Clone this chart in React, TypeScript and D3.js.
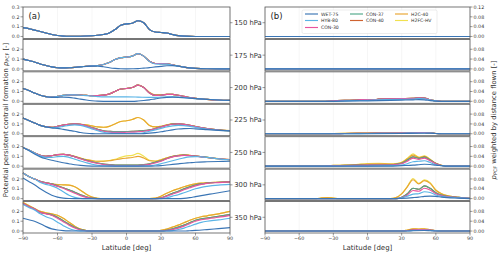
import * as d3 from 'd3';

type Pt = [number, number];

const series = ['WET-75', 'HYB-80', 'CON-30', 'CON-37', 'CON-40', 'H2C-40', 'H2FC-HV'];
const colors = ['#3a75b5', '#5ab4e6', '#e8549e', '#50a888', '#cf6330', '#e8a530', '#f1e150'];
const levels = ['150 hPa', '175 hPa', '200 hPa', '225 hPa', '250 hPa', '300 hPa', '350 hPa'];
const latTicks = [-90, -60, -30, 0, 30, 60, 90];
const pcfTicks = [0, 0.1, 0.2, 0.3];
const distTicks = [0, 0.04, 0.08, 0.12];

// ---- (a) potential persistent contrail formation, [lat, value] knots
const p150: Pt[] = [[-90,0.09],[-85,0.08],[-80,0.065],[-75,0.05],[-70,0.035],[-65,0.02],[-60,0.01],[-55,0.004],[-50,0.002],[-40,0.002],[-30,0.007],[-25,0.012],[-20,0.02],[-15,0.035],[-10,0.07],[-5,0.115],[0,0.128],[5,0.135],[10,0.16],[15,0.14],[20,0.07],[25,0.045],[30,0.04],[35,0.035],[40,0.02],[45,0.008],[50,0.003],[60,0],[90,0]];

const p175_wet: Pt[] = [[-90,0.1],[-85,0.085],[-80,0.07],[-75,0.05],[-70,0.035],[-65,0.02],[-60,0.012],[-55,0.01],[-50,0.012],[-45,0.016],[-40,0.02],[-35,0.025],[-30,0.028],[-25,0.028],[-20,0.022],[-15,0.012],[-10,0.005],[-5,0.001],[0,0],[5,0.001],[10,0.003],[15,0.008],[20,0.013],[25,0.02],[30,0.026],[35,0.032],[40,0.033],[45,0.028],[50,0.018],[55,0.01],[60,0.005],[70,0.001],[90,0]];
const p175_hyb: Pt[] = [[-90,0.1],[-85,0.085],[-80,0.07],[-75,0.05],[-70,0.035],[-65,0.02],[-60,0.012],[-55,0.01],[-50,0.012],[-45,0.016],[-40,0.022],[-35,0.027],[-30,0.03],[-25,0.035],[-20,0.045],[-15,0.065],[-10,0.095],[-5,0.115],[0,0.12],[5,0.13],[10,0.155],[15,0.13],[20,0.075],[25,0.05],[30,0.048],[35,0.048],[40,0.04],[45,0.028],[50,0.018],[55,0.01],[60,0.005],[70,0.001],[90,0]];
const p175_con: Pt[] = [[-90,0.1],[-85,0.085],[-80,0.07],[-75,0.05],[-70,0.035],[-65,0.02],[-60,0.012],[-55,0.01],[-50,0.012],[-45,0.016],[-40,0.022],[-35,0.027],[-30,0.03],[-25,0.035],[-20,0.045],[-15,0.065],[-10,0.095],[-5,0.115],[0,0.12],[5,0.13],[10,0.155],[15,0.13],[20,0.078],[25,0.055],[30,0.054],[35,0.052],[40,0.042],[45,0.029],[50,0.018],[55,0.01],[60,0.005],[70,0.001],[90,0]];

const p200_wet: Pt[] = [[-90,0.13],[-85,0.11],[-80,0.085],[-75,0.062],[-70,0.048],[-65,0.04],[-60,0.04],[-55,0.042],[-50,0.04],[-45,0.032],[-40,0.022],[-35,0.013],[-30,0.006],[-25,0.002],[-15,0],[5,0],[10,0.003],[15,0.008],[20,0.015],[25,0.025],[30,0.034],[35,0.04],[40,0.042],[45,0.04],[50,0.036],[55,0.032],[60,0.028],[70,0.02],[80,0.013],[90,0.01]];
const p200_hyb: Pt[] = [[-90,0.13],[-85,0.11],[-80,0.085],[-75,0.062],[-70,0.048],[-65,0.042],[-60,0.05],[-55,0.06],[-50,0.065],[-45,0.065],[-40,0.062],[-35,0.058],[-30,0.053],[-25,0.048],[-20,0.045],[-10,0.045],[0,0.045],[10,0.043],[20,0.04],[25,0.04],[30,0.043],[35,0.046],[40,0.046],[45,0.043],[50,0.038],[55,0.033],[60,0.028],[70,0.02],[80,0.013],[90,0.01]];
const p200_con: Pt[] = [[-90,0.13],[-85,0.11],[-80,0.085],[-75,0.062],[-70,0.048],[-65,0.042],[-60,0.05],[-55,0.06],[-50,0.066],[-45,0.066],[-40,0.063],[-35,0.06],[-30,0.057],[-25,0.058],[-20,0.063],[-15,0.075],[-10,0.1],[-5,0.125],[0,0.13],[5,0.14],[10,0.165],[15,0.14],[20,0.085],[25,0.06],[30,0.062],[35,0.07],[40,0.07],[45,0.062],[50,0.05],[55,0.038],[60,0.03],[70,0.02],[80,0.013],[90,0.01]];
const p200_h2: Pt[] = [[-90,0.13],[-85,0.11],[-80,0.085],[-75,0.062],[-70,0.048],[-65,0.042],[-60,0.05],[-55,0.06],[-50,0.066],[-45,0.066],[-40,0.063],[-35,0.06],[-30,0.057],[-25,0.058],[-20,0.063],[-15,0.075],[-10,0.1],[-5,0.125],[0,0.13],[5,0.14],[10,0.165],[15,0.142],[20,0.09],[25,0.066],[30,0.066],[35,0.072],[40,0.071],[45,0.062],[50,0.05],[55,0.038],[60,0.03],[70,0.02],[80,0.013],[90,0.01]];

const p225_wet: Pt[] = [[-90,0.16],[-85,0.135],[-80,0.11],[-75,0.085],[-70,0.07],[-65,0.06],[-60,0.055],[-55,0.045],[-50,0.035],[-45,0.025],[-40,0.013],[-35,0.005],[-30,0.001],[-20,0],[10,0],[15,0.002],[20,0.006],[25,0.012],[30,0.02],[35,0.03],[40,0.04],[45,0.048],[50,0.052],[55,0.053],[60,0.05],[70,0.042],[80,0.034],[90,0.03]];
const p225_hyb: Pt[] = [[-90,0.16],[-85,0.135],[-80,0.11],[-75,0.085],[-70,0.07],[-65,0.062],[-60,0.065],[-55,0.075],[-50,0.085],[-45,0.09],[-40,0.085],[-35,0.07],[-30,0.05],[-25,0.03],[-20,0.015],[-15,0.007],[-10,0.004],[0,0.003],[10,0.004],[15,0.01],[20,0.025],[25,0.04],[30,0.055],[35,0.07],[40,0.08],[45,0.085],[50,0.083],[55,0.075],[60,0.065],[70,0.048],[80,0.036],[90,0.03]];
const p225_c30: Pt[] = [[-90,0.16],[-85,0.135],[-80,0.11],[-75,0.085],[-70,0.07],[-65,0.065],[-60,0.075],[-55,0.088],[-50,0.097],[-45,0.1],[-40,0.095],[-35,0.08],[-30,0.06],[-25,0.04],[-20,0.025],[-15,0.017],[-10,0.014],[-5,0.014],[0,0.015],[5,0.016],[10,0.02],[15,0.025],[20,0.035],[25,0.05],[30,0.068],[35,0.085],[40,0.097],[45,0.1],[50,0.095],[55,0.085],[60,0.072],[70,0.052],[80,0.038],[90,0.031]];
const p225_c40: Pt[] = [[-90,0.16],[-85,0.135],[-80,0.11],[-75,0.085],[-70,0.07],[-65,0.065],[-60,0.075],[-55,0.088],[-50,0.097],[-45,0.1],[-40,0.096],[-35,0.082],[-30,0.063],[-25,0.045],[-20,0.03],[-15,0.025],[-10,0.022],[-5,0.022],[0,0.023],[5,0.025],[10,0.028],[15,0.032],[20,0.04],[25,0.054],[30,0.07],[35,0.086],[40,0.098],[45,0.1],[50,0.096],[55,0.086],[60,0.073],[70,0.053],[80,0.039],[90,0.031]];
const p225_h2: Pt[] = [[-90,0.16],[-85,0.135],[-80,0.11],[-75,0.085],[-70,0.07],[-65,0.065],[-60,0.075],[-55,0.088],[-50,0.097],[-45,0.1],[-40,0.097],[-35,0.09],[-30,0.08],[-25,0.07],[-20,0.066],[-15,0.075],[-10,0.1],[-5,0.125],[0,0.132],[5,0.145],[10,0.165],[15,0.14],[20,0.085],[25,0.07],[30,0.075],[35,0.09],[40,0.1],[45,0.102],[50,0.097],[55,0.087],[60,0.074],[70,0.054],[80,0.04],[90,0.032]];

const p250_wet: Pt[] = [[-90,0.19],[-85,0.16],[-80,0.125],[-75,0.095],[-70,0.075],[-65,0.06],[-60,0.048],[-55,0.035],[-50,0.025],[-45,0.015],[-40,0.008],[-35,0.003],[-30,0.001],[-20,0],[20,0],[25,0.002],[30,0.006],[35,0.012],[40,0.018],[45,0.024],[50,0.03],[55,0.035],[60,0.04],[70,0.045],[80,0.048],[90,0.05]];
const p250_hyb: Pt[] = [[-90,0.19],[-85,0.165],[-80,0.135],[-75,0.105],[-70,0.09],[-65,0.09],[-60,0.097],[-55,0.1],[-50,0.09],[-45,0.072],[-40,0.052],[-35,0.035],[-30,0.02],[-25,0.01],[-20,0.004],[-10,0.001],[10,0.001],[20,0.004],[25,0.012],[30,0.025],[35,0.04],[40,0.055],[45,0.07],[50,0.085],[55,0.095],[60,0.098],[65,0.095],[70,0.09],[80,0.075],[90,0.065]];
const p250_c30: Pt[] = [[-90,0.19],[-85,0.165],[-80,0.135],[-75,0.11],[-70,0.1],[-65,0.108],[-60,0.117],[-55,0.12],[-50,0.112],[-45,0.095],[-40,0.075],[-35,0.055],[-30,0.04],[-25,0.027],[-20,0.017],[-15,0.01],[-10,0.006],[0,0.004],[10,0.006],[15,0.01],[20,0.018],[25,0.032],[30,0.05],[35,0.075],[40,0.095],[45,0.105],[50,0.11],[55,0.108],[60,0.102],[70,0.088],[80,0.076],[90,0.066]];
const p250_c40: Pt[] = [[-90,0.19],[-85,0.165],[-80,0.135],[-75,0.11],[-70,0.1],[-65,0.108],[-60,0.117],[-55,0.12],[-50,0.113],[-45,0.097],[-40,0.078],[-35,0.06],[-30,0.045],[-25,0.032],[-20,0.022],[-15,0.016],[-10,0.012],[0,0.01],[10,0.012],[15,0.016],[20,0.025],[25,0.04],[30,0.056],[35,0.078],[40,0.097],[45,0.107],[50,0.112],[55,0.109],[60,0.103],[70,0.089],[80,0.076],[90,0.066]];
const p250_h2c: Pt[] = [[-90,0.19],[-85,0.165],[-80,0.135],[-75,0.11],[-70,0.1],[-65,0.108],[-60,0.117],[-55,0.121],[-50,0.115],[-45,0.1],[-40,0.083],[-35,0.067],[-30,0.056],[-25,0.05],[-20,0.05],[-15,0.055],[-10,0.065],[-5,0.075],[0,0.082],[5,0.088],[10,0.1],[15,0.083],[20,0.055],[25,0.05],[30,0.065],[35,0.085],[40,0.1],[45,0.11],[50,0.115],[55,0.11],[60,0.104],[70,0.09],[80,0.077],[90,0.067]];
const p250_h2fc: Pt[] = [[-90,0.19],[-85,0.165],[-80,0.135],[-75,0.11],[-70,0.1],[-65,0.108],[-60,0.117],[-55,0.121],[-50,0.115],[-45,0.1],[-40,0.083],[-35,0.067],[-30,0.056],[-25,0.05],[-20,0.051],[-15,0.058],[-10,0.07],[-5,0.09],[0,0.105],[5,0.11],[10,0.13],[15,0.1],[20,0.06],[25,0.052],[30,0.066],[35,0.085],[40,0.1],[45,0.11],[50,0.115],[55,0.11],[60,0.104],[70,0.09],[80,0.077],[90,0.067]];

const p300_wet: Pt[] = [[-90,0.21],[-85,0.175],[-80,0.14],[-75,0.1],[-70,0.065],[-65,0.035],[-60,0.015],[-55,0.005],[-50,0.001],[-45,0],[45,0],[50,0.003],[55,0.01],[60,0.02],[65,0.03],[70,0.04],[75,0.05],[80,0.06],[85,0.07],[90,0.08]];
const p300_hyb: Pt[] = [[-90,0.26],[-85,0.225],[-80,0.2],[-75,0.165],[-70,0.145],[-65,0.13],[-60,0.105],[-55,0.07],[-50,0.035],[-45,0.012],[-40,0.003],[-35,0],[30,0],[35,0.008],[40,0.025],[45,0.04],[50,0.06],[55,0.08],[60,0.1],[65,0.115],[70,0.125],[80,0.138],[90,0.145]];
const p300_c30: Pt[] = [[-90,0.26],[-85,0.225],[-80,0.2],[-75,0.175],[-70,0.16],[-65,0.145],[-60,0.125],[-55,0.105],[-50,0.08],[-45,0.055],[-40,0.03],[-35,0.012],[-30,0.003],[-25,0],[25,0],[30,0.005],[35,0.025],[40,0.045],[45,0.065],[50,0.09],[55,0.11],[60,0.13],[65,0.145],[70,0.155],[80,0.163],[90,0.17]];
const p300_c40: Pt[] = [[-90,0.26],[-85,0.225],[-80,0.2],[-75,0.175],[-70,0.162],[-65,0.15],[-60,0.13],[-55,0.11],[-50,0.09],[-45,0.065],[-40,0.04],[-35,0.018],[-30,0.005],[-25,0],[25,0],[30,0.008],[35,0.03],[40,0.055],[45,0.075],[50,0.1],[55,0.12],[60,0.138],[65,0.15],[70,0.158],[80,0.165],[90,0.17]];
const p300_h2: Pt[] = [[-90,0.26],[-85,0.225],[-80,0.2],[-75,0.175],[-70,0.16],[-65,0.15],[-60,0.143],[-55,0.14],[-50,0.137],[-45,0.12],[-40,0.085],[-35,0.045],[-30,0.015],[-25,0.002],[-20,0],[20,0],[25,0.005],[30,0.025],[35,0.055],[40,0.08],[45,0.1],[50,0.12],[55,0.137],[60,0.15],[65,0.158],[70,0.162],[80,0.167],[90,0.172]];

const p350_wet: Pt[] = [[-90,0.13],[-85,0.115],[-80,0.1],[-75,0.075],[-70,0.045],[-65,0.022],[-60,0.01],[-55,0.004],[-50,0.001],[-45,0],[50,0],[55,0.003],[60,0.006],[70,0.015],[80,0.025],[90,0.035]];
const p350_hyb: Pt[] = [[-90,0.27],[-85,0.24],[-80,0.215],[-75,0.175],[-70,0.145],[-65,0.125],[-60,0.09],[-55,0.055],[-50,0.025],[-45,0.008],[-40,0.001],[-35,0],[35,0],[40,0.004],[45,0.015],[50,0.03],[55,0.05],[60,0.07],[65,0.088],[70,0.1],[80,0.113],[90,0.13]];
const p350_c30: Pt[] = [[-90,0.28],[-85,0.25],[-80,0.225],[-75,0.19],[-70,0.175],[-65,0.16],[-60,0.13],[-55,0.095],[-50,0.06],[-45,0.03],[-40,0.01],[-35,0.002],[-30,0],[30,0],[35,0.005],[40,0.015],[45,0.03],[50,0.05],[55,0.075],[60,0.1],[65,0.115],[70,0.123],[80,0.14],[90,0.16]];
const p350_c40: Pt[] = [[-90,0.28],[-85,0.25],[-80,0.225],[-75,0.19],[-70,0.178],[-65,0.165],[-60,0.14],[-55,0.105],[-50,0.07],[-45,0.038],[-40,0.015],[-35,0.004],[-30,0],[30,0],[35,0.008],[40,0.022],[45,0.04],[50,0.06],[55,0.085],[60,0.11],[65,0.125],[70,0.133],[80,0.15],[90,0.168]];
const p350_h2: Pt[] = [[-90,0.29],[-85,0.26],[-80,0.23],[-75,0.2],[-70,0.185],[-65,0.175],[-60,0.16],[-55,0.13],[-50,0.09],[-45,0.05],[-40,0.02],[-35,0.005],[-30,0],[25,0],[30,0.008],[35,0.02],[40,0.04],[45,0.06],[50,0.085],[55,0.11],[60,0.13],[65,0.145],[70,0.155],[80,0.175],[90,0.2]];

// ---- (b) pPCF weighted by distance flown
const dZero: Pt[] = [[-90,0],[90,0]];

const d200_wet: Pt[] = [[-90,0],[-30,0],[-20,0.001],[0,0.002],[20,0.004],[30,0.005],[40,0.006],[45,0.007],[50,0.006],[55,0.003],[60,0.001],[65,0],[90,0]];
const d200_hyb: Pt[] = [[-90,0],[-30,0],[-20,0.002],[-10,0.003],[0,0.004],[10,0.006],[20,0.007],[30,0.008],[40,0.009],[45,0.011],[50,0.01],[55,0.005],[60,0.002],[65,0],[90,0]];
const d200_con: Pt[] = [[-90,0],[-40,0],[-30,0.002],[-20,0.004],[-10,0.005],[-5,0.007],[0,0.007],[5,0.006],[10,0.009],[20,0.01],[30,0.011],[40,0.012],[45,0.014],[50,0.013],[55,0.006],[60,0.002],[65,0],[90,0]];

const d225_wet: Pt[] = [[-90,0],[0,0],[30,0.001],[45,0.002],[55,0.002],[60,0.001],[65,0],[90,0]];
const d225_hyb: Pt[] = [[-90,0],[-20,0],[0,0.001],[30,0.002],[45,0.003],[55,0.003],[60,0.001],[65,0],[90,0]];
const d225_con: Pt[] = [[-90,0],[-30,0],[-20,0.001],[0,0.002],[20,0.003],[40,0.004],[50,0.005],[55,0.003],[60,0.001],[65,0],[90,0]];
const d225_h2: Pt[] = [[-90,0],[-40,0],[-30,0.001],[-20,0.002],[0,0.003],[20,0.004],[40,0.005],[50,0.005],[55,0.003],[60,0.001],[65,0],[90,0]];

const d250_wet: Pt[] = [[-90,0],[20,0],[30,0.002],[40,0.004],[45,0.006],[50,0.008],[55,0.007],[60,0.004],[65,0.002],[70,0],[90,0]];
const d250_hyb: Pt[] = [[-90,0],[0,0],[20,0.002],[30,0.005],[35,0.01],[40,0.018],[45,0.02],[50,0.022],[55,0.015],[60,0.006],[65,0.002],[70,0],[90,0]];
const d250_c30: Pt[] = [[-90,0],[-40,0],[-30,0.002],[-10,0.003],[0,0.004],[10,0.004],[20,0.005],[30,0.01],[35,0.02],[40,0.033],[45,0.028],[50,0.033],[55,0.022],[60,0.01],[65,0.003],[70,0],[90,0]];
const d250_c40: Pt[] = [[-90,0],[-40,0],[-30,0.002],[-10,0.004],[0,0.005],[10,0.006],[20,0.006],[30,0.012],[35,0.025],[40,0.038],[45,0.032],[50,0.037],[55,0.025],[60,0.011],[65,0.003],[70,0],[90,0]];
const d250_h2c: Pt[] = [[-90,0],[-40,0],[-30,0.003],[-20,0.004],[-10,0.006],[0,0.009],[10,0.01],[20,0.009],[25,0.01],[30,0.015],[35,0.03],[40,0.045],[45,0.035],[50,0.04],[55,0.027],[60,0.012],[65,0.004],[70,0],[90,0]];
const d250_h2fc: Pt[] = [[-90,0],[-40,0],[-30,0.003],[-20,0.004],[-10,0.007],[0,0.011],[10,0.012],[20,0.01],[25,0.011],[30,0.016],[35,0.032],[40,0.05],[45,0.037],[50,0.042],[55,0.028],[60,0.012],[65,0.004],[70,0],[90,0]];

const d300_wet: Pt[] = [[-90,0],[25,0],[30,0.001],[40,0.004],[45,0.006],[50,0.009],[55,0.01],[60,0.009],[65,0.006],[70,0.004],[80,0.002],[90,0]];
const d300_hyb: Pt[] = [[-90,0],[25,0],[30,0.003],[35,0.01],[40,0.018],[45,0.02],[50,0.028],[55,0.025],[60,0.015],[65,0.009],[70,0.006],[80,0.003],[90,0.001]];
const d300_c30: Pt[] = [[-90,0],[25,0],[30,0.004],[35,0.015],[40,0.033],[45,0.03],[50,0.042],[55,0.035],[60,0.02],[65,0.012],[70,0.008],[80,0.004],[90,0.001]];
const d300_c40: Pt[] = [[-90,0],[25,0],[30,0.005],[35,0.02],[40,0.042],[45,0.038],[50,0.052],[55,0.042],[60,0.024],[65,0.014],[70,0.009],[80,0.005],[90,0.001]];
const d300_h2c: Pt[] = [[-90,0],[-45,0],[-40,0.003],[-35,0.004],[-30,0.002],[-25,0],[20,0],[25,0.004],[30,0.019],[35,0.048],[40,0.077],[45,0.06],[50,0.073],[55,0.062],[60,0.034],[65,0.02],[70,0.012],[80,0.005],[90,0.001]];
const d300_h2fc: Pt[] = [[-90,0],[-45,0],[-40,0.003],[-35,0.004],[-30,0.002],[-25,0],[20,0],[25,0.004],[30,0.02],[35,0.05],[40,0.082],[45,0.062],[50,0.076],[55,0.065],[60,0.035],[65,0.02],[70,0.012],[80,0.005],[90,0.001]];

const d350_wet: Pt[] = [[-90,0],[35,0],[40,0.001],[50,0.002],[55,0.001],[60,0],[90,0]];
const d350_hyb: Pt[] = [[-90,0],[35,0],[40,0.002],[45,0.003],[50,0.003],[55,0.002],[60,0.001],[65,0],[90,0]];
const d350_con: Pt[] = [[-90,0],[30,0],[35,0.002],[40,0.005],[45,0.006],[50,0.006],[55,0.004],[60,0.001],[65,0],[90,0]];
const d350_h2: Pt[] = [[-90,0],[-40,0],[-35,0.001],[-30,0],[30,0],[35,0.004],[40,0.009],[45,0.008],[50,0.009],[55,0.005],[60,0.002],[65,0],[90,0]];

// series order per level: WET-75, HYB-80, CON-30, CON-37, CON-40, H2C-40, H2FC-HV
const pcfLevels: Pt[][][] = [
  [p150, p150, p150, p150, p150, p150, p150],
  [p175_wet, p175_hyb, p175_con, p175_con, p175_con, p175_con, p175_con],
  [p200_wet, p200_hyb, p200_con, p200_con, p200_con, p200_h2, p200_h2],
  [p225_wet, p225_hyb, p225_c30, p225_c40, p225_c40, p225_h2, p225_h2],
  [p250_wet, p250_hyb, p250_c30, p250_c40, p250_c40, p250_h2c, p250_h2fc],
  [p300_wet, p300_hyb, p300_c30, p300_c40, p300_c40, p300_h2, p300_h2],
  [p350_wet, p350_hyb, p350_c30, p350_c40, p350_c40, p350_h2, p350_h2],
];
const distLevels: Pt[][][] = [
  [dZero, dZero, dZero, dZero, dZero, dZero, dZero],
  [dZero, dZero, dZero, dZero, dZero, dZero, dZero],
  [d200_wet, d200_hyb, d200_con, d200_con, d200_con, d200_con, d200_con],
  [d225_wet, d225_hyb, d225_con, d225_con, d225_con, d225_h2, d225_h2],
  [d250_wet, d250_hyb, d250_c30, d250_c40, d250_c40, d250_h2c, d250_h2fc],
  [d300_wet, d300_hyb, d300_c30, d300_c40, d300_c40, d300_h2c, d300_h2fc],
  [d350_wet, d350_hyb, d350_con, d350_con, d350_con, d350_h2, d350_h2],
];

const W = 500;
const H = 256;
const TOP = 7;
const BOTTOM = 233;
const GAP = 1;
const ROW_H = (BOTTOM - TOP - GAP * (levels.length - 1)) / levels.length;
const FONT = 'DejaVu Sans, sans-serif';
const SPINE = '#555';

const minus = (s: string) => s.replace('-', '\u2212');

type PanelProps = {
  x0: number;
  x1: number;
  data: Pt[][][];
  yMin: number;
  yMax: number;
  ticks: number[];
  fmt: (v: number) => string;
  side: 'left' | 'right';
  label: string;
};

function Panel({ x0, x1, data, yMin, yMax, ticks, fmt, side, label }: PanelProps) {
  const x = d3.scaleLinear().domain([-90, 90]).range([x0, x1]);
  const order = d3.range(series.length).reverse(); // WET-75 drawn last, on top

  return (
    <g>
      {data.map((level, i) => {
        const yTop = TOP + i * (ROW_H + GAP);
        const y = d3.scaleLinear().domain([yMin, yMax]).range([yTop + ROW_H, yTop]);
        const line = d3.line<Pt>().x(d => x(d[0])).y(d => y(d[1])).curve(d3.curveMonotoneX);
        const shown = i === 0 ? ticks : ticks.filter(t => t < yMax - 1e-9);
        const axX = side === 'left' ? x0 : x1;
        const dir = side === 'left' ? -1 : 1;
        return (
          <g key={i}>
            {latTicks.map(t => (
              <line key={t} x1={x(t)} x2={x(t)} y1={yTop} y2={yTop + ROW_H} stroke="#ececec" strokeWidth={0.5} />
            ))}
            {order.map(s => (
              <path key={s} d={line(level[s]) ?? ''} fill="none" stroke={colors[s]} strokeWidth={1.15} />
            ))}
            <rect x={x0} y={yTop} width={x1 - x0} height={ROW_H} fill="none" stroke={SPINE} strokeWidth={0.8} />
            {shown.map(t => (
              <g key={t}>
                <line x1={axX} x2={axX + dir * 2.5} y1={y(t)} y2={y(t)} stroke={SPINE} strokeWidth={0.6} />
                <text
                  x={axX + dir * 3.5}
                  y={y(t)}
                  dy="0.35em"
                  fontSize={4.8}
                  fill="#333"
                  textAnchor={side === 'left' ? 'end' : 'start'}
                >
                  {fmt(t)}
                </text>
              </g>
            ))}
            {/* pressure-level tick on the inner side */}
            {side === 'left' ? (
              <line x1={x1} x2={x1 + 2.5} y1={yTop + ROW_H / 2} y2={yTop + ROW_H / 2} stroke={SPINE} strokeWidth={0.6} />
            ) : (
              <line x1={x0} x2={x0 - 2.5} y1={yTop + ROW_H / 2} y2={yTop + ROW_H / 2} stroke={SPINE} strokeWidth={0.6} />
            )}
          </g>
        );
      })}
      {latTicks.map(t => (
        <g key={t}>
          <line x1={x(t)} x2={x(t)} y1={BOTTOM} y2={BOTTOM + 2.5} stroke={SPINE} strokeWidth={0.6} />
          <text x={x(t)} y={BOTTOM + 5.3} dy="0.35em" fontSize={4.8} fill="#333" textAnchor="middle">
            {minus(String(t))}
          </text>
        </g>
      ))}
      <text x={(x0 + x1) / 2} y={BOTTOM + 14.5} dy="0.35em" fontSize={7} fill="#333" textAnchor="middle">
        Latitude [deg]
      </text>
      <text x={x0 + 5.5} y={TOP + 9} dy="0.35em" fontSize={8.5} fill="#222">
        {label}
      </text>
    </g>
  );
}

function Legend() {
  const lx = 302;
  const ly = 10;
  const cols = [0, 0, 0, 1, 1, 2, 2];
  const rows = [0, 1, 2, 0, 1, 0, 1];
  const colX = [305, 350, 395];
  const rowY = [14, 20.5, 27.5];
  return (
    <g>
      <rect x={lx} y={ly} width={135} height={23.5} rx={1.5} fill="white" fillOpacity={0.9} stroke="#d8d8d8" strokeWidth={0.5} />
      {series.map((name, i) => (
        <g key={name}>
          <line x1={colX[cols[i]]} x2={colX[cols[i]] + 13} y1={rowY[rows[i]]} y2={rowY[rows[i]]} stroke={colors[i]} strokeWidth={1.15} />
          <text x={colX[cols[i]] + 16} y={rowY[rows[i]]} dy="0.35em" fontSize={4.6} fill="#333">
            {name}
          </text>
        </g>
      ))}
    </g>
  );
}

export default function App() {
  const midY = (TOP + BOTTOM) / 2;
  return (
    <svg width={W} height={H} style={{ position: 'absolute', left: 0, top: 0, background: 'white' }} fontFamily={FONT}>
      <Panel
        x0={23}
        x1={230}
        data={pcfLevels}
        yMin={-0.02}
        yMax={0.3}
        ticks={pcfTicks}
        fmt={d3.format('.1f')}
        side="left"
        label="(a)"
      />
      <Panel
        x0={265}
        x1={470}
        data={distLevels}
        yMin={-0.008}
        yMax={0.12}
        ticks={distTicks}
        fmt={d3.format('.2f')}
        side="right"
        label="(b)"
      />
      {levels.map((lv, i) => (
        <text key={lv} x={248} y={TOP + i * (ROW_H + GAP) + ROW_H / 2} dy="0.35em" fontSize={6.8} fill="#333" textAnchor="middle">
          {lv}
        </text>
      ))}
      <text transform={`translate(5.5,${midY}) rotate(-90)`} textAnchor="middle" dy="0.35em" fontSize={6.8} fill="#333">
        Potential persistent contrail formation <tspan fontStyle="italic">p</tspan>
        <tspan fontSize={4.8} dy="1.5">PCF</tspan>
        <tspan dy="-1.5"> [-]</tspan>
      </text>
      <text transform={`translate(493.5,${midY}) rotate(-90)`} textAnchor="middle" dy="0.35em" fontSize={6.8} fill="#333">
        <tspan fontStyle="italic">p</tspan>
        <tspan fontSize={4.8} dy="1.5">PCF</tspan>
        <tspan dy="-1.5"> weighted by distance flown [-]</tspan>
      </text>
      <Legend />
    </svg>
  );
}
